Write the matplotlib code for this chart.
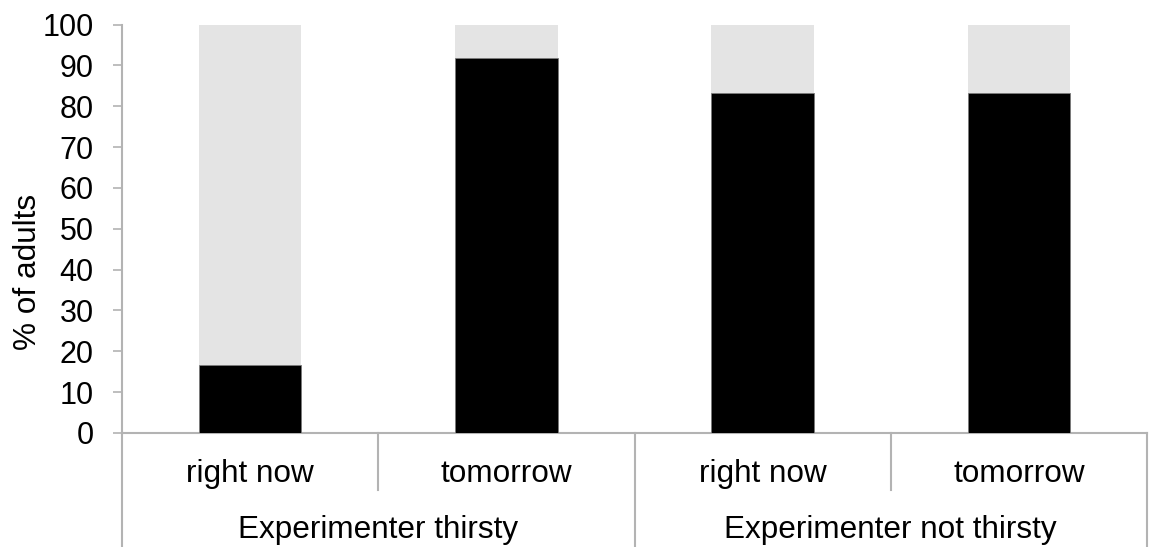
import matplotlib
matplotlib.use("Agg")
import matplotlib.pyplot as plt
import matplotlib.transforms as mtransforms

plt.rcParams['font.family'] = ['Liberation Sans', 'DejaVu Sans']

subcats = ["right now", "tomorrow", "right now", "tomorrow"]
groups = ["Experimenter thirsty", "Experimenter not thirsty"]
yes_pct = [16.7, 91.7, 83.3, 83.3]
total = [100, 100, 100, 100]
yticks = list(range(0, 101, 10))

W, H = 1150, 547
fig = plt.figure(figsize=(W / 100, H / 100), dpi=100)
L, R, T, B = 122, 1147, 24.5, 433
ax = fig.add_axes([L / W, (H - B) / H, (R - L) / W, (B - T) / H])

x = list(range(len(subcats)))
rest = [t - v for t, v in zip(total, yes_pct)]
ax.bar(x, yes_pct, width=0.40, color='black', edgecolor='#7a7a7a', linewidth=0.6, zorder=3)
ax.bar(x, rest, bottom=yes_pct, width=0.40, color='#e4e4e4', linewidth=0, zorder=2)

ax.set_xlim(-0.5, len(subcats) - 0.5)
ax.set_ylim(0, 100)
ax.set_yticks(yticks)
ax.set_xticks([])
line_c = '#b3b3b3'
for s in ['top', 'right']:
    ax.spines[s].set_visible(False)
for s in ['left', 'bottom']:
    ax.spines[s].set_color(line_c)
    ax.spines[s].set_linewidth(1.5)
ax.tick_params(axis='y', length=6.5, width=1.2, color=line_c, pad=14, labelsize=22, labelcolor='black')

trans = mtransforms.blended_transform_factory(ax.transData, ax.transAxes)
ax_h = B - T
bottom_ax = -(H - B) / ax_h
short_ax = -(490 - B) / ax_h
for xs in [-0.5, 1.5, 3.5]:
    ax.plot([xs, xs], [0, bottom_ax], transform=trans, color=line_c, lw=1.5, clip_on=False, zorder=1)
for xs in [0.5, 2.5]:
    ax.plot([xs, xs], [0, short_ax], transform=trans, color=line_c, lw=1.5, clip_on=False, zorder=1)

sub_y = -(482 - B) / ax_h
grp_y = -(538 - B) / ax_h
for xi, lab in zip(x, subcats):
    ax.text(xi, sub_y, lab, transform=trans, ha='center', va='baseline', fontsize=22.7)
for gi, g in enumerate(groups):
    ax.text(gi * 2 + 0.5, grp_y, g, transform=trans, ha='center', va='baseline', fontsize=22.7)

fig.text(28 / W, 1 - 272 / H, "% of adults", rotation=90, ha='center', va='center', fontsize=22.7)

fig.savefig("out.png", dpi=100)
